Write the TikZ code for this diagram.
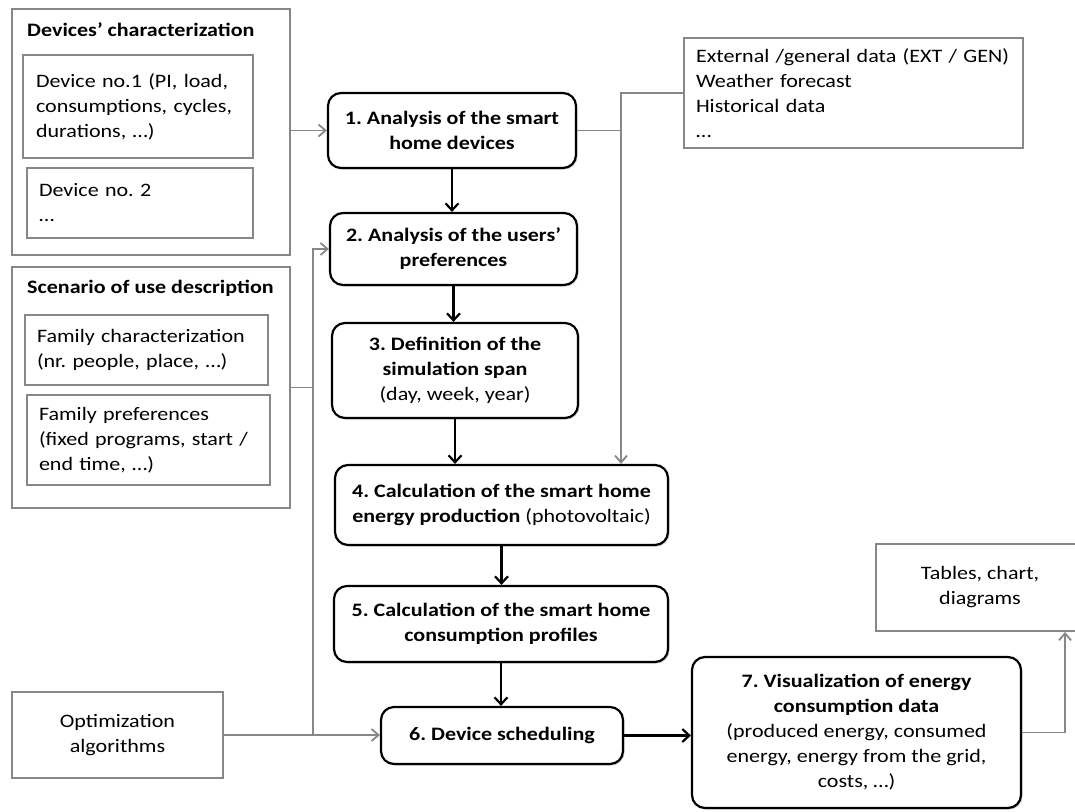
\documentclass[tikz,border=0pt]{standalone}
\usepackage{fontspec}
\setmainfont{Carlito}[FakeStretch=1.16]
\usetikzlibrary{arrows.meta,shadows}
\definecolor{lgray}{RGB}{135,135,135}
\newcommand\fsz{\fontsize{19}{25}\selectfont\frenchspacing}
\tikzset{
  pbox/.style={draw=black, line width=2.2pt, rounded corners=13pt, fill=white,
    align=center, font=\fsz\bfseries, inner sep=0pt,
    drop shadow={shadow xshift=1.5pt, shadow yshift=-1.5pt, opacity=0.35}},
  gbox/.style={draw=lgray, line width=1.8pt, fill=white, font=\fsz, inner ysep=0pt},
  obox/.style={draw=lgray, line width=1.8pt, fill=white, inner sep=0pt},
  title/.style={font=\fsz\bfseries, inner sep=0pt, anchor=west},
  barrow/.style={draw=black, line width=2.2pt, -{Straight Barb[length=7pt,width=13pt]}},
  garrow/.style={draw=lgray, line width=1.8pt, -{Straight Barb[length=7pt,width=12pt]}},
  gline/.style={draw=lgray, line width=1.8pt},
}
\begin{document}
\begin{tikzpicture}[x=1pt,y=-1pt]
\useasboundingbox (0,0) rectangle (1075,811);
\clip (0,0) rectangle (1075,811);
\fill[white] (0,0) rectangle (1075,811);

% left outer groups
\node[obox, minimum width=278pt, minimum height=246pt] (devOuter) at (151,132) {};
\node[title] (devTitle) at (27,30) {Devices’ characterization};
\node[gbox, minimum width=230pt, minimum height=103pt, text width=204pt, inner xsep=13pt, align=left] (dev1) at (138,106.5)
  {Device no.1 (PI, load,\\consumptions, cycles,\\durations, …)};
\node[gbox, minimum width=226pt, minimum height=70pt, text width=202pt, inner xsep=12pt, align=left] (dev2) at (140,203)
  {Device no. 2\\…};

\node[obox, minimum width=278pt, minimum height=241pt] (scnOuter) at (151,387.5) {};
\node[title] (scnTitle) at (27,288) {Scenario of use description};
\node[gbox, minimum width=243pt, minimum height=70pt, text width=219pt, inner xsep=12pt, align=left] (fam1) at (146.5,350)
  {Family characterization\\(nr. people, place, …)};
\node[gbox, minimum width=243pt, minimum height=90pt, text width=219pt, inner xsep=12pt, align=left] (fam2) at (148.5,440)
  {Family preferences\\(fixed programs, start /\\end time, …)};

\node[gbox, minimum width=211pt, minimum height=86pt, align=center, inner xsep=0pt] (opt) at (117.5,735)
  {Optimization\\algorithms};

% right grey boxes
\node[gbox, minimum width=339pt, minimum height=110pt, text width=315pt, inner xsep=12pt, align=left] (ext) at (853.5,93)
  {External /general data (EXT / GEN)\\Weather forecast\\Historical data\\…};
\node[gbox, minimum width=208pt, minimum height=87pt, align=center, inner xsep=0pt] (tables) at (980,587.5)
  {Tables, chart,\\diagrams};

% process steps
\node[pbox, minimum width=248pt, minimum height=75pt] (n1) at (452,130.5)
  {1. Analysis of the smart\\home devices};
\node[pbox, minimum width=247pt, minimum height=72pt] (n2) at (453.5,249)
  {2. Analysis of the users’\\preferences};
\node[pbox, minimum width=246pt, minimum height=95pt] (n3) at (455,370.5)
  {3. Definition of the\\simulation span\\{\mdseries (day, week, year)}};
\node[pbox, minimum width=333pt, minimum height=80pt] (n4) at (501.5,505)
  {4. Calculation of the smart home\\energy production {\mdseries (photovoltaic)}};
\node[pbox, minimum width=334pt, minimum height=76pt] (n5) at (501,624)
  {5. Calculation of the smart home\\consumption profiles};
\node[pbox, minimum width=242pt, minimum height=57pt] (n6) at (502,735.5)
  {6. Device scheduling};
\node[pbox, minimum width=329pt, minimum height=151pt] (n7) at (856.5,732.5)
  {7. Visualization of energy\\consumption data\\{\mdseries (produced energy, consumed}\\{\mdseries energy, energy from the grid,}\\{\mdseries costs, …)}};

% junction columns
\coordinate (jx) at (313,0);
\coordinate (jy) at (621,0);
\coordinate (jt) at (1065,0);

% black flow
\draw[barrow] (n1.south) -- (n1.south |- n2.north);
\draw[barrow] (n2.south) -- (n2.south |- n3.north);
\draw[barrow] (n3.south) -- (n3.south |- n4.north);
\draw[barrow] (n4.south) -- (n4.south |- n5.north);
\draw[barrow] (n5.south) -- (n5.south |- n6.north);
\draw[barrow] (n6.east) -- (n6.east -| n7.west);

% grey inputs
\draw[garrow] (devOuter.east |- n1.west) -- (n1.west);
\draw[garrow] (scnOuter.east) -- (jx |- scnOuter.east) -- (jx |- n2.west) -- (n2.west);
\draw[gline] (jx |- scnOuter.east) -- (jx |- opt.east);
\draw[garrow] (opt.east) -- (opt.east -| n6.west);
\draw[gline] (n1.east) -- (jy |- n1.east);
\draw[garrow] (ext.west) -- (jy |- ext.west) -- (jy |- n4.north);
\draw[garrow] (n7.east) -- (jt |- n7.east) -- (jt |- tables.south);
\end{tikzpicture}
\end{document}
